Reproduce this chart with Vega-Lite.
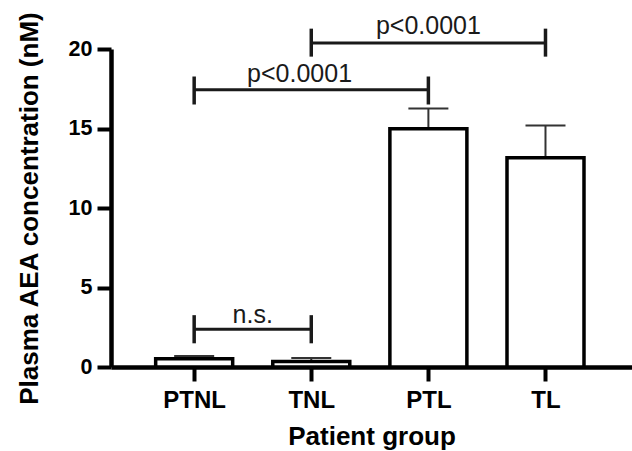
{
  "$schema": "https://vega.github.io/schema/vega-lite/v6.json",
  "width": 521,
  "height": 318,
  "autosize": {"type": "none"},
  "padding": {"left": 111, "top": 49, "right": 0, "bottom": 84},
  "background": "white",
  "config": {
    "view": {"stroke": null},
    "font": "Liberation Sans",
    "axis": {
      "domainColor": "black",
      "domainWidth": 4.5,
      "tickColor": "black",
      "tickWidth": 4,
      "tickSize": 14,
      "grid": false,
      "labelFont": "Liberation Sans",
      "labelFontWeight": "bold",
      "labelColor": "black",
      "titleFont": "Liberation Sans",
      "titleFontWeight": "bold",
      "titleColor": "black",
      "titleFontSize": 26,
      "zindex": 1
    }
  },
  "datasets": {
    "bars": [
      {"group": "PTNL", "idx": 1, "mean": 0.52, "upper": 0.69},
      {"group": "TNL", "idx": 2, "mean": 0.35, "upper": 0.56},
      {"group": "PTL", "idx": 3, "mean": 14.98, "upper": 16.26},
      {"group": "TL", "idx": 4, "mean": 13.16, "upper": 15.19}
    ],
    "brackets": [
      {"from": 1, "to": 2, "y": 2.37},
      {"from": 1, "to": 3, "y": 17.43},
      {"from": 2, "to": 4, "y": 20.38}
    ],
    "bracketEnds": [
      {"x": 1, "lo": 1.49, "hi": 3.26},
      {"x": 2, "lo": 1.49, "hi": 3.26},
      {"x": 1, "lo": 16.51, "hi": 18.27},
      {"x": 3, "lo": 16.51, "hi": 18.27},
      {"x": 2, "lo": 19.52, "hi": 21.28},
      {"x": 4, "lo": 19.52, "hi": 21.28}
    ],
    "labels": [
      {"label": "n.s.", "x": 1.5, "y": 2.74},
      {"label": "p<0.0001", "x": 1.9, "y": 17.91},
      {"label": "p<0.0001", "x": 3.0, "y": 20.95}
    ]
  },
  "layer": [
    {
      "data": {"name": "bars"},
      "mark": {"type": "rule", "color": "#333333", "strokeWidth": 2},
      "encoding": {
        "x": {"field": "idx", "type": "quantitative"},
        "y": {"field": "mean", "type": "quantitative"},
        "y2": {"field": "upper"}
      }
    },
    {
      "data": {"name": "bars"},
      "mark": {"type": "tick", "orient": "horizontal", "color": "#333333", "size": 40, "thickness": 2, "opacity": 1},
      "encoding": {
        "x": {"field": "idx", "type": "quantitative"},
        "y": {"field": "upper", "type": "quantitative"}
      }
    },
    {
      "data": {"name": "bars"},
      "mark": {"type": "bar", "width": 77, "fill": "white", "stroke": "black", "strokeWidth": 3.5},
      "encoding": {
        "x": {
          "field": "idx",
          "type": "quantitative",
          "scale": {"domain": [0.3325, 4.696], "nice": false, "zero": false},
          "axis": {
            "values": [1, 2, 3, 4],
            "labelExpr": "['', 'PTNL', 'TNL', 'PTL', 'TL'][datum.value]",
            "labelFontSize": 24,
            "labelBaseline": "alphabetic",
            "labelPadding": 26,
            "labelFlush": false,
            "labelOverlap": false,
            "title": "Patient group",
            "titleBaseline": "alphabetic",
            "titleY": 77
          }
        },
        "y": {
          "field": "mean",
          "type": "quantitative",
          "scale": {"domain": [0, 20], "nice": false},
          "axis": {
            "values": [0, 5, 10, 15, 20],
            "labelFontSize": 21.5,
            "labelPadding": 5,
            "title": "Plasma AEA concentration (nM)",
            "titleBaseline": "alphabetic",
            "titleX": -74,
            "titleY": 159
          }
        }
      }
    },
    {
      "data": {"name": "brackets"},
      "mark": {"type": "rule", "color": "#1a1a1a", "strokeWidth": 3},
      "encoding": {
        "x": {"field": "from", "type": "quantitative"},
        "x2": {"field": "to"},
        "y": {"field": "y", "type": "quantitative"}
      }
    },
    {
      "data": {"name": "bracketEnds"},
      "mark": {"type": "rule", "color": "#1a1a1a", "strokeWidth": 3.5},
      "encoding": {
        "x": {"field": "x", "type": "quantitative"},
        "y": {"field": "lo", "type": "quantitative"},
        "y2": {"field": "hi"}
      }
    },
    {
      "data": {"name": "labels"},
      "mark": {"type": "text", "font": "Liberation Sans", "fontSize": 25, "align": "center", "baseline": "alphabetic", "color": "#1a1a1a"},
      "encoding": {
        "x": {"field": "x", "type": "quantitative"},
        "y": {"field": "y", "type": "quantitative"},
        "text": {"field": "label"}
      }
    }
  ]
}
